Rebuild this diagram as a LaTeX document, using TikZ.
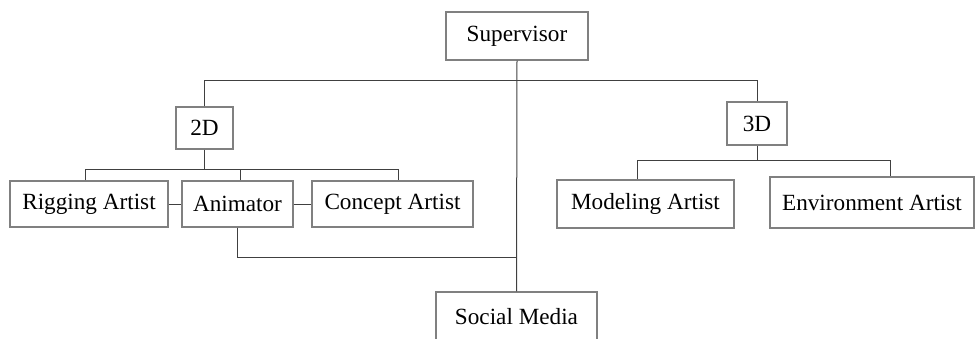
\documentclass[tikz,border=0pt]{standalone}
\usepackage{fontspec}
\setmainfont{Liberation Serif}
\begin{document}
\begin{tikzpicture}[x=0.5pt,y=-0.5pt,
  box/.style={draw=black!50, line width=0.55pt, inner sep=0pt, font=\fontsize{11.6}{13}\selectfont, text=black},
  link/.style={draw=black!75, line width=0.5pt}]
\useasboundingbox (0,0) rectangle (976,338);
\clip (0,0) rectangle (976,338);
% nodes
\node[box, minimum width=71pt, minimum height=24pt] (sup) at (517,36) {Supervisor};
\node[box, minimum width=28.5pt, minimum height=21pt] (d2) at (204.5,128) {2D};
\node[box, minimum width=30pt, minimum height=21.5pt] (d3) at (757,123.5) {3D};
\node[box, minimum width=79pt, minimum height=23pt] (rig) at (89,204) {Rigging Artist};
\node[box, minimum width=55.5pt, minimum height=23pt] (ani) at (237.5,204) {Animator};
\node[box, minimum width=80.5pt, minimum height=23pt] (con) at (392.5,204) {Concept Artist};
\node[box, minimum width=88.5pt, minimum height=24pt] (mod) at (645.5,204) {Modeling Artist};
\node[box, minimum width=102pt, minimum height=25.5pt] (env) at (872,202.5) {Environment Artist};
\node[box, minimum width=80.5pt, minimum height=25pt] (sm) at (516.5,317) {Social Media};
% bus coordinates
\coordinate (bus) at (0,80);
\coordinate (b2) at (0,169);
\coordinate (b3) at (0,160);
\coordinate (b4) at (0,257);
% connectors
\draw[link] (sup.south) -- (sm.north);
\draw[link] (d2.north) |- (d3.north |- bus) -- (d3.north);
\draw[link] (d2.south) -- (d2.south |- b2);
\draw[link] ([xshift=-2pt]rig.north) |- ([xshift=2.75pt]con.north |- b2) -- ([xshift=2.75pt]con.north);
\draw[link] ([xshift=1.25pt]ani.north) -- ([xshift=1.25pt]ani.north |- b2);
\draw[link] (rig.east) -- (ani.west);
\draw[link] (ani.east) -- (con.west);
\draw[link] (ani.south) |- (sm.north |- b4);
\draw[link] (d3.south) -- (d3.south |- b3);
\draw[link] ([xshift=-4.25pt]mod.north) |- ([xshift=9pt]env.north |- b3) -- ([xshift=9pt]env.north);
\end{tikzpicture}
\end{document}
